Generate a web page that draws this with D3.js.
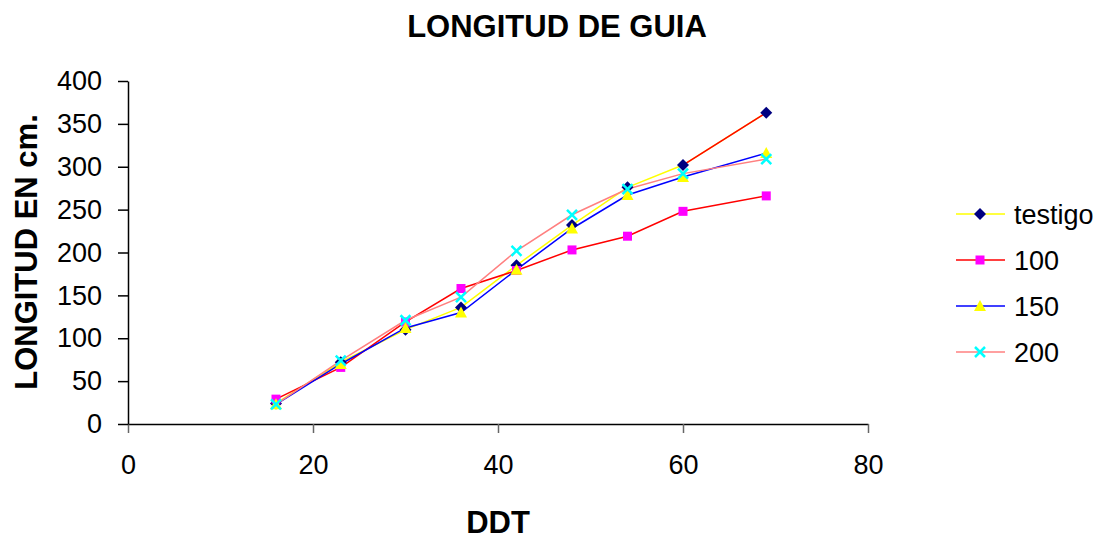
<!DOCTYPE html>
<html>
<head>
<meta charset="utf-8">
<script src="https://cdn.jsdelivr.net/npm/d3@7"></script>
<style>
  body { margin: 0; background: #fff; }
  text { font-family: Arial, "Liberation Sans", sans-serif; fill: #000; }
  .title { font-weight: bold; font-size: 31px; }
  .tick text { font-size: 27px; }
  .legend text { font-size: 27px; }
</style>
</head>
<body>
<div id="chart"></div>
<script>
// Data
var ddt = [16, 23, 30, 36, 42, 48, 54, 60, 69];
var testigo = [24, 72, 110, 136, 185, 232, 276, 302, 363];
var s100 = [29, 66, 119, 158, 179, 203, 219, 248, 266];
var s150 = [23, 70, 112, 130, 180, 228, 267, 288, 316];
var s200 = [23, 74, 121, 148, 202, 244, 274, 292, 309];
var seriesNames = ["testigo", "100", "150", "200"];
var xTicks = [0, 20, 40, 60, 80];
var yTicks = [0, 50, 100, 150, 200, 250, 300, 350, 400];

var width = 1106;
var height = 539;

// Plot area
var plotLeft = 128, plotRight = 868, plotTop = 81, plotBottom = 424;

var svg = d3.select("#chart")
  .append("svg")
  .attr("width", width)
  .attr("height", height);

var xScale = d3.scaleLinear().domain([0, 80]).range([plotLeft, plotRight]);
var yScale = d3.scaleLinear().domain([0, 400]).range([plotBottom, plotTop]);

// Series styles (line colour, marker colour, marker shape)
var styles = [
  { line: "#ffff00", fill: "#000080", shape: "diamond" },
  { line: "#ff0000", fill: "#ff00ff", shape: "square" },
  { line: "#0000ff", fill: "#ffff00", shape: "triangle" },
  { line: "#ff8080", fill: "#00ffff", shape: "cross" }
];

var allValues = [testigo, s100, s150, s200];

// Title
svg.append("text")
  .attr("class", "title")
  .attr("x", 557)
  .attr("y", 37)
  .attr("text-anchor", "middle")
  .text("LONGITUD DE GUIA");

// Axes
var xAxis = d3.axisBottom(xScale).tickValues(xTicks).tickSize(9).tickPadding(22).tickSizeOuter(0);
var yAxis = d3.axisLeft(yScale).tickValues(yTicks).tickSize(10).tickPadding(16).tickSizeOuter(0);

var gx = svg.append("g")
  .attr("transform", "translate(0," + plotBottom + ")")
  .call(xAxis);
gx.select(".domain").attr("stroke", "#000").attr("stroke-width", 1.5);
gx.selectAll(".tick line").attr("stroke", "#666").attr("stroke-width", 1.5);

var gy = svg.append("g")
  .attr("transform", "translate(" + plotLeft + ",0)")
  .call(yAxis);
gy.select(".domain").attr("stroke", "#000").attr("stroke-width", 1.5);
gy.selectAll(".tick line").attr("stroke", "#000").attr("stroke-width", 1.5);

// Axis titles
svg.append("text")
  .attr("class", "title")
  .attr("x", (plotLeft + plotRight) / 2)
  .attr("y", 533)
  .attr("text-anchor", "middle")
  .text("DDT");

svg.append("text")
  .attr("class", "title")
  .attr("transform", "translate(37,252)rotate(-90)")
  .attr("text-anchor", "middle")
  .text("LONGITUD EN cm.");

// Marker drawing
function drawMarker(g, shape, color) {
  if (shape === "diamond") {
    g.append("path").attr("d", "M0,-6L6,0L0,6L-6,0Z").attr("fill", color);
  } else if (shape === "square") {
    g.append("rect").attr("x", -4.5).attr("y", -4.5).attr("width", 9).attr("height", 9).attr("fill", color);
  } else if (shape === "triangle") {
    g.append("path").attr("d", "M0,-6L6,5L-6,5Z").attr("fill", color);
  } else {
    g.append("path").attr("d", "M-5,-5L5,5M5,-5L-5,5")
      .attr("stroke", color).attr("stroke-width", 2.5).attr("fill", "none");
  }
}

var line = d3.line()
  .x(function(d) { return xScale(d[0]); })
  .y(function(d) { return yScale(d[1]); });

// Lines
allValues.forEach(function(vals, i) {
  var pts = ddt.map(function(x, j) { return [x, vals[j]]; });
  svg.append("path")
    .datum(pts)
    .attr("d", line)
    .attr("fill", "none")
    .attr("stroke", styles[i].line)
    .attr("stroke-width", 1.5);
  // last segment of testigo is drawn in red in the original
  if (i === 0) {
    svg.append("path")
      .datum(pts.slice(pts.length - 2))
      .attr("d", line)
      .attr("fill", "none")
      .attr("stroke", "#ff0000")
      .attr("stroke-width", 1.5);
  }
});

// Markers
allValues.forEach(function(vals, i) {
  ddt.forEach(function(x, j) {
    var g = svg.append("g")
      .attr("transform", "translate(" + xScale(x) + "," + yScale(vals[j]) + ")");
    drawMarker(g, styles[i].shape, styles[i].fill);
  });
});

// Legend
var legend = svg.append("g").attr("class", "legend");
seriesNames.forEach(function(name, i) {
  var y = 214 + i * 46;
  legend.append("line")
    .attr("x1", 956).attr("x2", 1005)
    .attr("y1", y).attr("y2", y)
    .attr("stroke", styles[i].line)
    .attr("stroke-width", 1.5);
  var g = legend.append("g").attr("transform", "translate(980," + y + ")");
  drawMarker(g, styles[i].shape, styles[i].fill);
  legend.append("text")
    .attr("x", 1014)
    .attr("y", y)
    .attr("dy", "0.36em")
    .text(name);
});
</script>
</body>
</html>
